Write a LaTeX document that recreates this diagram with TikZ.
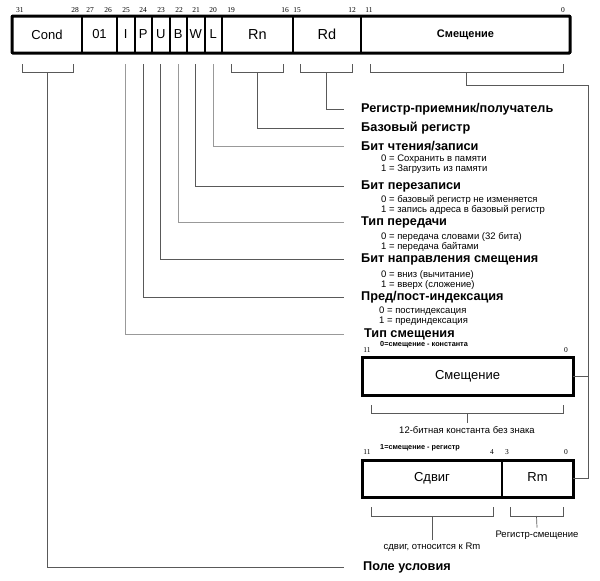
\documentclass[tikz,border=0pt]{standalone}
\usepackage{fontspec}
\setmainfont{Liberation Sans}
\newfontfamily\numfont{Liberation Serif}
\usetikzlibrary{positioning}

\tikzset{
  field/.style={draw, line width=2pt, inner sep=0pt, outer sep=0pt,
    minimum height=37pt, font=\fontsize{13}{15}\selectfont},
  bitno/.style={inner sep=0pt, font=\numfont\fontsize{7.5}{9}\selectfont},
  brk/.style={draw=black!65, line width=0.7pt},
  lead/.style={draw=black!65, line width=0.8pt},
  leadl/.style={draw=black!40, line width=0.8pt},
  head/.style={anchor=west, inner sep=0pt, font=\bfseries\fontsize{12.7}{15}\selectfont},
  subtxt/.style={anchor=west, inner sep=0pt, align=left,
    font=\fontsize{9.5}{10}\selectfont},
  note/.style={inner sep=0pt, font=\fontsize{9.5}{11}\selectfont},
  tinytxt/.style={anchor=west, inner sep=0pt, font=\bfseries\fontsize{7.3}{8}\selectfont},
}

\begin{document}
\begin{tikzpicture}[x=1pt,y=-1pt]
  \useasboundingbox (0,0) rectangle (600,581);

  % instruction word
  \foreach \nm/\xa/\xb/\txt in {cond/12/82/Cond, f01/82/117/01, fI/117/134.5/I,
      fP/134.5/152/P, fU/152/169.5/U, fB/169.5/187/B, fW/187/204.5/W, fL/204.5/222/L}
    \node[field, minimum width={(\xb-\xa)*1pt}] (\nm) at ({(\xa+\xb)/2},34.5) {\txt};
  \node[field, minimum width=71pt, font=\fontsize{14.5}{16}\selectfont] (fRn) at (257.5,34.5) {Rn};
  \node[field, minimum width=68pt, font=\fontsize{14.5}{16}\selectfont] (fRd) at (327,34.5) {Rd};
  \node[field, minimum width=209pt, font=\bfseries\fontsize{11}{13}\selectfont] (fOff) at (465.5,34.5) {Смещение};
  \draw[line width=3pt, rounded corners=1pt] (cond.north west) rectangle (fOff.south east);

  \foreach \n/\x in {31/20, 28/75, 27/90, 26/108, 25/126, 24/143, 23/161, 22/179,
      21/196, 20/213, 19/231, 16/285, 15/297, 12/352, 11/369, 0/563}
    \node[bitno] (n\n) at (\x,10) {\n};

  % brackets under the word
  \foreach \nm/\xa/\xb in {bCond/22/73, bRn/231/283, bRd/300/352, bOff/370/563} {
    \draw[brk] (\xa,64) |- (\xb,72) -- (\xb,64);
    \coordinate (\nm) at ({(\xa+\xb)/2},72);
  }
  \coordinate (yb) at (0,64);
  \coordinate (lx) at (344,0);
  \coordinate (bus) at (588,85);

  % field descriptions
  \node[head] (hRd) at (361,109) {Регистр-приемник/получатель};
  \node[head] (hRn) at (361,128) {Базовый регистр};
  \node[head] (hL) at (361,146) {Бит чтения/записи};
  \node[subtxt] (sL) at (381,164) {0 = Сохранить в памяти\\1 = Загрузить из памяти};
  \node[head] (hW) at (361,186) {Бит перезаписи};
  \node[subtxt] (sW) at (381,205) {0 = базовый регистр не изменяется\\1 = запись адреса в базовый регистр};
  \node[head] (hB) at (361,222) {Тип передачи};
  \node[subtxt] (sB) at (381,242) {0 = передача словами (32 бита)\\1 = передача байтами};
  \node[head] (hU) at (361,259) {Бит направления смещения};
  \node[subtxt] (sU) at (381,280) {0 = вниз (вычитание)\\1 = вверх (сложение)};
  \node[head] (hP) at (361,297) {Пред/пост-индексация};
  \node[subtxt] (sP) at (379,316.5) {0 = постиндексация\\1 = прединдексация};
  \node[head] (hI) at (364,334) {Тип смещения};
  \node[head] (hCond) at (363,567) {Поле условия};

  \draw[lead] (bRd) |- (lx |- hRd);
  \draw[lead] (bRn) |- (lx |- hRn);
  \draw[leadl] (fL |- yb) |- (lx |- hL);
  \draw[lead] (fW |- yb) |- (lx |- hW);
  \draw[leadl] (fB |- yb) |- (lx |- hB);
  \draw[lead] (fU |- yb) |- (lx |- hU);
  \draw[lead] (fP |- yb) |- (lx |- hP);
  \draw[leadl] (fI |- yb) |- (lx |- hI);
  \draw[lead] (bCond) |- (lx |- hCond);

  % immediate offset
  \node[tinytxt] (cImm) at (380,345) {0=смещение - константа};
  \node[bitno] (m11) at (367,350) {11};
  \node[bitno] (m0) at (566,350) {0};
  \node[field, line width=3pt, minimum width=211pt, minimum height=38pt] (boxOff) at (467.5,376) {Смещение};
  \draw[brk] (371,405) |- (563,413) -- (563,405);
  \coordinate (bImm) at (467,413);
  \node[note] (tImm) at (467,430) {12-битная константа без знака};
  \draw[brk] (bImm) -- ([yshift=3pt]tImm.north);

  % register offset
  \node[tinytxt] (cReg) at (380,448) {1=смещение - регистр};
  \node[bitno] (r11) at (367,452) {11};
  \node[bitno] (r4) at (492,452) {4};
  \node[bitno] (r3) at (507,452) {3};
  \node[bitno] (r0) at (566,452) {0};
  \node[field, minimum width=140pt] (bShift) at (432,478.5) {Сдвиг};
  \node[field, minimum width=71pt, text depth=2pt] (bRm) at (537.5,478.5) {Rm};
  \draw[line width=3pt] (bShift.north west) rectangle (bRm.south east);
  \draw[brk] (371,507) |- (493,516) -- (493,507);
  \draw[brk] (510,507) |- (563,516) -- (563,507);
  \coordinate (bSh) at (432,516);
  \coordinate (bRmB) at (536.5,516);
  \node[note] (tSh) at (432,547) {сдвиг, относится к Rm};
  \node[note] (tRm) at (537,535) {Регистр-смещение};
  \draw[brk] (bSh) -- ([yshift=3pt]tSh.north);
  \draw[brk] (bRmB) -- ([yshift=3pt]tRm.north);

  % offset bus
  \draw[lead] (bOff) |- (bus) -- (bus |- bRm.east) -- (bRm.east);
  \draw[lead] (boxOff.east) -- (bus |- boxOff.east);
\end{tikzpicture}
\end{document}
